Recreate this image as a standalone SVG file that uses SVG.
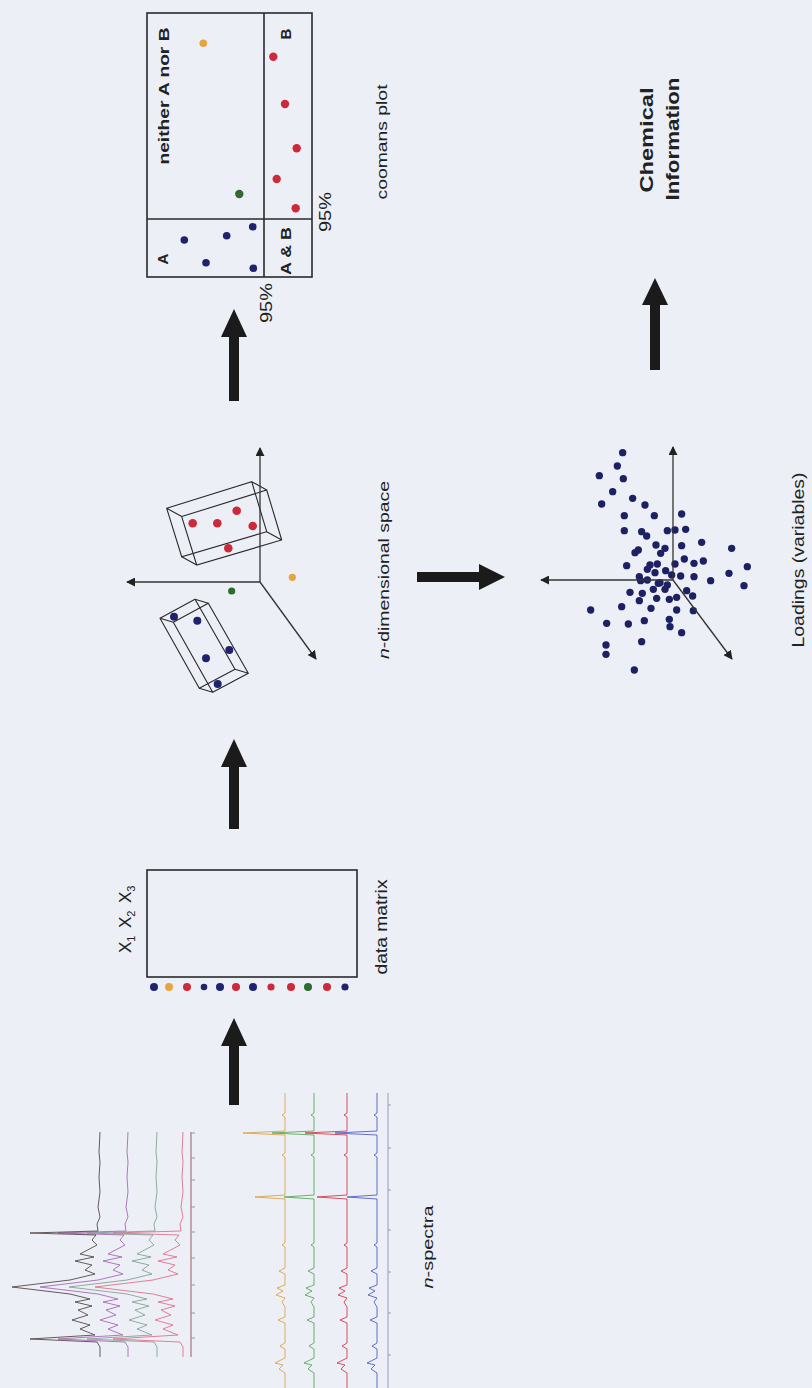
<svg xmlns="http://www.w3.org/2000/svg" xmlns:xlink="http://www.w3.org/1999/xlink" width="812" height="1388" viewBox="0 0 812 1388">
  <defs>
    <style>
      .lbl { font-family: "Liberation Sans", Arial, sans-serif; fill: #222; }
      .b { font-weight: bold; }
      .frame { fill: none; stroke: #2a2a2a; stroke-width: 1.6; }
      .wire { fill: none; stroke: #2a2a2a; stroke-width: 1.1; }
      .axis { fill: none; stroke: #333; stroke-width: 1.3; marker-end: url(#tip); }
      .big { fill: #1b1b1b; }
      .nv { fill: #20226e; }
      .rd { fill: #cc2a3a; }
      .og { fill: #e6a63c; }
      .gn { fill: #2f6a2f; }
      .tr { fill: none; stroke-width: 1; stroke-linejoin: round; opacity: 0.85; }
    </style>
    <marker id="tip" viewBox="0 0 10 10" refX="9" refY="5" markerWidth="9" markerHeight="9" markerUnits="userSpaceOnUse" orient="auto">
      <path d="M0,0 L10,5 L0,10 z" fill="#222"/>
    </marker>
    <!-- stacked NMR-like trace, baseline at x=0, peaks to the left -->
    <path id="specA" d="M0,0 L-1,20 L0,30 L-1,45 L0,60 L-2,75 L0,85 L-3,92 L-2,99 L-70,101 L-4,103 L-8,108 L-3,113 L-20,122 L-6,125 L-25,129 L-8,133 L-15,138 L-5,142 L-30,148 L-88,155 L-30,162 L-10,167 L-25,170 L-8,174 L-22,178 L-12,183 L-28,188 L-10,193 L-20,197 L-5,203 L-70,207 L-3,210 L0,215 L0,225"/>
    <path id="specB" d="M0,0 L0,20 L-3,22 L0,24 L0,38 L-42,40 L0,42 L0,60 L-3,62 L0,64 L0,102 L-30,104 L0,106 L0,150 L-3,152 L0,154 L0,175 L-6,178 L0,181 L0,192 L-8,195 L-2,198 L-9,202 L0,205 L-3,209 L0,214 L0,224 L-7,227 L0,230 L0,250 L-5,253 L0,256 L0,265 L-10,270 L-2,272 L-6,276 L0,280 L0,295"/>
  </defs>

  <rect x="0" y="0" width="812" height="1388" fill="#eceff6"/>

  <!-- n-spectra -->
  <g id="spectra">
    <line x1="191" y1="1132" x2="191" y2="1357" stroke="#b48c96" stroke-width="1.5"/>
    <path d="M191,1133 h4 M191,1158 h4 M191,1180 h4 M191,1207 h4 M191,1232 h4 M191,1258 h4 M191,1285 h4 M191,1313 h4 M191,1338 h4" stroke="#b48c96" stroke-width="1"/>
    <use xlink:href="#specA" class="tr" stroke="#e26a88" transform="translate(183,1132)"/>
    <use xlink:href="#specA" class="tr" stroke="#7fa08e" transform="translate(157,1132)"/>
    <use xlink:href="#specA" class="tr" stroke="#a462b4" transform="translate(128,1132)"/>
    <use xlink:href="#specA" class="tr" stroke="#4e4040" transform="translate(100,1132)"/>

    <line x1="388" y1="1093" x2="388" y2="1388" stroke="#9a9ab8" stroke-width="1"/>
    <path d="M388,1105 h3 M388,1148 h3 M388,1190 h3 M388,1230 h3 M388,1272 h3 M388,1313 h3 M388,1355 h3" stroke="#9a9ab8" stroke-width="1"/>
    <use xlink:href="#specB" class="tr" stroke="#4a58c4" transform="translate(377,1093)"/>
    <use xlink:href="#specB" class="tr" stroke="#d23444" transform="translate(347,1093)"/>
    <use xlink:href="#specB" class="tr" stroke="#52a452" transform="translate(314,1093)"/>
    <use xlink:href="#specB" class="tr" stroke="#dca040" transform="translate(285,1093)"/>

    <text class="lbl" font-size="15" transform="translate(433,1247) rotate(-90)" text-anchor="middle" textLength="83" lengthAdjust="spacingAndGlyphs"><tspan font-style="italic">n</tspan>-spectra</text>
  </g>

  <!-- data matrix -->
  <g id="data-matrix">
    <rect class="frame" x="147" y="870" width="210" height="107"/>
    <circle class="nv" cx="154" cy="987" r="4"/>
    <circle class="og" cx="169" cy="987" r="4"/>
    <circle class="rd" cx="187" cy="987" r="4"/>
    <circle class="nv" cx="204" cy="987" r="3.3"/>
    <circle class="nv" cx="220" cy="987" r="4"/>
    <circle class="rd" cx="236" cy="987" r="4"/>
    <circle class="nv" cx="253" cy="987" r="4"/>
    <circle class="rd" cx="271" cy="987" r="3.6"/>
    <circle class="rd" cx="291" cy="987" r="4"/>
    <circle class="gn" cx="308" cy="987" r="4"/>
    <circle class="rd" cx="327" cy="987" r="4"/>
    <circle class="nv" cx="345" cy="987" r="3.6"/>
    <text class="lbl" font-size="17" transform="translate(131,953) rotate(-90)">X<tspan font-size="11" dy="4">1</tspan></text>
    <text class="lbl" font-size="17" transform="translate(131,928) rotate(-90)">X<tspan font-size="11" dy="4">2</tspan></text>
    <text class="lbl" font-size="17" transform="translate(131,903) rotate(-90)">X<tspan font-size="11" dy="4">3</tspan></text>
    <text class="lbl" font-size="17" transform="translate(387,927) rotate(-90)" text-anchor="middle" textLength="95" lengthAdjust="spacingAndGlyphs">data matrix</text>
  </g>

  <!-- n-dimensional space -->
  <g id="nspace">
    <!-- class box 1 -->
    <path class="wire" d="M166.7,508.3 L251.7,481.7 L266.7,531.7 L181.7,556.7 Z M181.7,516.6 L266.7,490 L281.7,540 L196.7,565 Z M166.7,508.3 L181.7,516.6 M251.7,481.7 L266.7,490 M266.7,531.7 L281.7,540 M181.7,556.7 L196.7,565"/>
    <circle class="rd" cx="192.7" cy="523.3" r="4.3"/>
    <circle class="rd" cx="217.3" cy="523.3" r="4.3"/>
    <circle class="rd" cx="236.7" cy="510.7" r="4.3"/>
    <circle class="rd" cx="252.7" cy="526" r="4.3"/>
    <circle class="rd" cx="228.3" cy="548.3" r="4.3"/>
    <!-- class box 2 -->
    <path class="wire" d="M160,618.3 L195,599.3 L235,669.3 L199.3,688.3 Z M173.3,622.3 L208.3,603.3 L248.3,673.3 L212.7,692.3 Z M160,618.3 L173.3,622.3 M195,599.3 L208.3,603.3 M235,669.3 L248.3,673.3 M199.3,688.3 L212.7,692.3"/>
    <circle class="nv" cx="174" cy="616.7" r="4"/>
    <circle class="nv" cx="197.3" cy="620.7" r="4"/>
    <circle class="nv" cx="229.3" cy="650" r="4"/>
    <circle class="nv" cx="206" cy="658.3" r="4"/>
    <circle class="nv" cx="217.7" cy="684" r="4"/>
    <circle class="og" cx="292.3" cy="577.3" r="3.6"/>
    <circle class="gn" cx="231.7" cy="591" r="3.6"/>
    <!-- axes -->
    <line class="axis" x1="260" y1="582" x2="260" y2="448"/>
    <line class="axis" x1="260" y1="582" x2="127" y2="582"/>
    <line class="axis" x1="260" y1="582" x2="316" y2="659"/>
    <text class="lbl" font-size="15" transform="translate(389,570) rotate(-90)" text-anchor="middle" textLength="178" lengthAdjust="spacingAndGlyphs"><tspan font-style="italic">n</tspan>-dimensional space</text>
  </g>

  <!-- coomans plot -->
  <g id="coomans">
    <rect class="frame" x="147" y="13" width="165" height="264"/>
    <line class="frame" x1="264" y1="13" x2="264" y2="277"/>
    <line class="frame" x1="147" y1="219" x2="312" y2="219"/>
    <circle class="og" cx="203.3" cy="43.3" r="3.8"/>
    <circle class="rd" cx="273.3" cy="56.7" r="4.2"/>
    <circle class="rd" cx="285" cy="104" r="4.2"/>
    <circle class="rd" cx="296.7" cy="148.3" r="4.2"/>
    <circle class="rd" cx="276.7" cy="179" r="4.2"/>
    <circle class="rd" cx="295.7" cy="208.3" r="4.2"/>
    <circle class="gn" cx="239.3" cy="194" r="4.2"/>
    <circle class="nv" cx="252.7" cy="226.7" r="3.8"/>
    <circle class="nv" cx="226.7" cy="235.7" r="3.8"/>
    <circle class="nv" cx="184.3" cy="240" r="3.8"/>
    <circle class="nv" cx="206" cy="262.7" r="3.8"/>
    <circle class="nv" cx="253.3" cy="268.3" r="3.8"/>
    <text class="lbl b" font-size="15" transform="translate(169,96) rotate(-90)" text-anchor="middle" textLength="137" lengthAdjust="spacingAndGlyphs">neither A nor B</text>
    <text class="lbl b" font-size="15" transform="translate(168,259) rotate(-90)" text-anchor="middle">A</text>
    <text class="lbl b" font-size="15" transform="translate(291,34) rotate(-90)" text-anchor="middle">B</text>
    <text class="lbl b" font-size="15" transform="translate(291,251) rotate(-90)" text-anchor="middle" textLength="48" lengthAdjust="spacingAndGlyphs">A &amp; B</text>
    <text class="lbl" font-size="17" transform="translate(272,303) rotate(-90)" text-anchor="middle" textLength="40" lengthAdjust="spacingAndGlyphs">95%</text>
    <text class="lbl" font-size="17" transform="translate(331,212) rotate(-90)" text-anchor="middle" textLength="40" lengthAdjust="spacingAndGlyphs">95%</text>
    <text class="lbl" font-size="15" transform="translate(387,142) rotate(-90)" text-anchor="middle" textLength="115" lengthAdjust="spacingAndGlyphs">coomans plot</text>
  </g>

  <!-- loadings plot -->
  <g id="loadings">
    <g transform="translate(540,380) scale(0.3333)" fill="#1e2064">
      <circle cx="248" cy="218" r="11"/><circle cx="232" cy="258" r="11"/><circle cx="178" cy="287" r="11"/>
      <circle cx="250" cy="296" r="11"/><circle cx="218" cy="335" r="11"/><circle cx="185" cy="372" r="11"/>
      <circle cx="278" cy="355" r="11"/><circle cx="315" cy="375" r="11"/><circle cx="253" cy="407" r="11"/>
      <circle cx="343" cy="407" r="11"/><circle cx="425" cy="402" r="11"/><circle cx="253" cy="452" r="11"/>
      <circle cx="305" cy="455" r="11"/><circle cx="320" cy="468" r="11"/><circle cx="382" cy="452" r="11"/>
      <circle cx="405" cy="450" r="11"/><circle cx="437" cy="448" r="11"/><circle cx="485" cy="487" r="11"/>
      <circle cx="575" cy="505" r="11"/><circle cx="348" cy="495" r="11"/><circle cx="375" cy="505" r="11"/>
      <circle cx="285" cy="518" r="11"/><circle cx="295" cy="510" r="11"/><circle cx="362" cy="520" r="11"/>
      <circle cx="425" cy="497" r="11"/><circle cx="433" cy="537" r="11"/><circle cx="462" cy="550" r="11"/>
      <circle cx="490" cy="543" r="11"/><circle cx="260" cy="557" r="11"/><circle cx="330" cy="555" r="11"/>
      <circle cx="352" cy="552" r="11"/><circle cx="322" cy="568" r="11"/><circle cx="345" cy="578" r="11"/>
      <circle cx="377" cy="572" r="11"/><circle cx="405" cy="552" r="11"/><circle cx="622" cy="560" r="11"/>
      <circle cx="567" cy="580" r="11"/><circle cx="462" cy="590" r="11"/><circle cx="298" cy="590" r="11"/>
      <circle cx="302" cy="602" r="11"/><circle cx="422" cy="588" r="11"/><circle cx="360" cy="608" r="11"/>
      <circle cx="382" cy="615" r="11"/><circle cx="512" cy="602" r="11"/><circle cx="612" cy="617" r="11"/>
      <circle cx="270" cy="637" r="11"/><circle cx="307" cy="640" r="11"/><circle cx="340" cy="628" r="11"/>
      <circle cx="375" cy="628" r="11"/><circle cx="440" cy="632" r="11"/><circle cx="458" cy="648" r="11"/>
      <circle cx="298" cy="662" r="11"/><circle cx="350" cy="655" r="11"/><circle cx="388" cy="658" r="11"/>
      <circle cx="410" cy="652" r="11"/><circle cx="333" cy="685" r="11"/><circle cx="245" cy="680" r="11"/>
      <circle cx="152" cy="690" r="11"/><circle cx="410" cy="690" r="11"/><circle cx="460" cy="692" r="11"/>
      <circle cx="200" cy="730" r="11"/><circle cx="265" cy="732" r="11"/><circle cx="313" cy="722" r="11"/>
      <circle cx="388" cy="718" r="11"/><circle cx="390" cy="740" r="11"/><circle cx="425" cy="758" r="11"/>
      <circle cx="198" cy="795" r="11"/><circle cx="198" cy="823" r="11"/><circle cx="305" cy="785" r="11"/>
      <circle cx="283" cy="870" r="11"/><circle cx="355" cy="610" r="11"/><circle cx="322" cy="600" r="11"/>
      <circle cx="395" cy="585" r="11"/>
    </g>
    <line class="axis" x1="673" y1="580" x2="673" y2="447"/>
    <line class="axis" x1="673" y1="580" x2="541" y2="580"/>
    <line class="axis" x1="673" y1="580" x2="732" y2="659"/>
    <text class="lbl" font-size="16" transform="translate(804,560) rotate(-90)" text-anchor="middle" textLength="175" lengthAdjust="spacingAndGlyphs">Loadings (variables)</text>
  </g>

  <!-- chemical information -->
  <g id="chem-info">
    <text class="lbl b" font-size="19" transform="translate(653,140) rotate(-90)" text-anchor="middle" textLength="105" lengthAdjust="spacingAndGlyphs">Chemical</text>
    <text class="lbl b" font-size="19" transform="translate(679,139) rotate(-90)" text-anchor="middle" textLength="123" lengthAdjust="spacingAndGlyphs">Information</text>
  </g>

  <!-- process arrows -->
  <g id="connectors">
    <polygon class="big" points="234,1018 247,1046 239,1046 239,1105 229,1105 229,1046 221,1046"/>
    <polygon class="big" points="234,739 247,767 239,767 239,829 229,829 229,767 221,767"/>
    <polygon class="big" points="234,309 247,337 239,337 239,401 229,401 229,337 221,337"/>
    <polygon class="big" points="505,577 479,564 479,572 417,572 417,582 479,582 479,590"/>
    <polygon class="big" points="655,278 668,305 660,305 660,370 650,370 650,305 642,305"/>
  </g>
</svg>
